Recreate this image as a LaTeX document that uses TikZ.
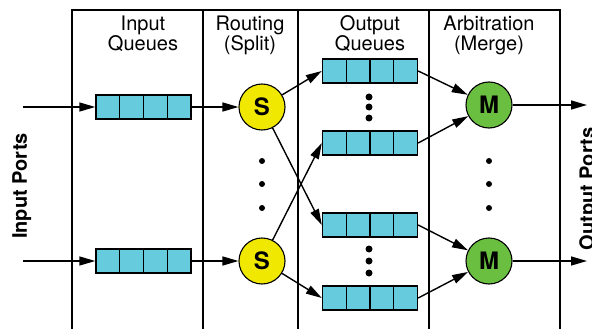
\documentclass[tikz,border=0pt]{standalone}
\usepackage{fontspec}
\setmainfont{TeX Gyre Heros}
\usetikzlibrary{arrows.meta,calc}
\definecolor{qcyan}{RGB}{102,204,221}
\definecolor{syellow}{RGB}{240,232,0}
\definecolor{mgreen}{RGB}{106,190,64}
\begin{document}
\begin{tikzpicture}[x=1pt,y=-1pt,
  frameline/.style={line width=1.4pt},
  queuebox/.style={draw, line width=1.4pt, fill=qcyan, minimum width=95pt, minimum height=24pt, inner sep=0pt,
    path picture={\foreach \k in {1,2,3}{\draw[line width=1.4pt]
      ($(path picture bounding box.south west)!\k/4!(path picture bounding box.south east)$) --
      ($(path picture bounding box.north west)!\k/4!(path picture bounding box.north east)$);}}},
  splitnode/.style={circle, draw, line width=1.1pt, fill=syellow, minimum size=46pt, inner sep=0pt, font=\bfseries\fontsize{24}{24}\selectfont},
  mergenode/.style={circle, draw, line width=1.1pt, fill=mgreen, minimum size=46pt, inner sep=0pt, font=\bfseries\fontsize{24}{24}\selectfont},
  header/.style={align=center, inner sep=0pt, anchor=north, font=\fontsize{20}{20}\selectfont},
  portlabel/.style={rotate=90, anchor=base, inner sep=0pt, font=\bfseries\fontsize{20}{20}\selectfont},
  conn/.style={line width=1.4pt, -{Triangle[length=16pt,width=9pt]}},
  dotmark/.style={fill=black}
]
\useasboundingbox (0,0) rectangle (592,329);
\clip (0,0) rectangle (592,329);
% frame
\draw[frameline] (72,329) -- (72,10) -- (560,10) -- (560,329);
\foreach \xx in {203,298,429} \draw[frameline] (\xx,10) -- (\xx,329);
% headers
\node[header] (h1) at (143,15.6) {Input\\Queues};
\node[header] (h2) at (250,15.6) {Routing\\(Split)};
\node[header] (h3) at (370,15.6) {Output\\Queues};
\node[header] (h4) at (489,15.6) {Arbitration\\(Merge)};
% port labels
\node[portlabel] (inports) at (27,186) {Input Ports};
\node[portlabel] (outports) at (594,189) {Output Ports};
% input queues
\coordinate (in1) at (23,107);
\coordinate (in2) at (23,261);
\node[queuebox] (iq1) at (143.5,107) {};
\node[queuebox] (iq2) at (143.5,261) {};
% split
\node[splitnode] (s1) at (262,107) {S};
\node[splitnode] (s2) at (262,261) {S};
% output queues
\node[queuebox] (oq1) at (370,71) {};
\node[queuebox] (oq2) at (370,143) {};
\node[queuebox] (oq3) at (370,225) {};
\node[queuebox] (oq4) at (370,298) {};
% merge
\node[mergenode] (m1) at (489,105) {M};
\node[mergenode] (m2) at (489,261) {M};
\coordinate (out1) at (587,105);
\coordinate (out2) at (587,261);
% connectors
\draw[conn] (in1) -- (iq1.west);
\draw[conn] (in2) -- (iq2.west);
\draw[conn] (iq1.east) -- (s1);
\draw[conn] (iq2.east) -- (s2);
\draw[conn] (s1) -- (oq1.west);
\draw[conn] (s1) -- (oq3.west);
\draw[conn] (s2) -- (oq2.west);
\draw[conn] (s2) -- (oq4.west);
\draw[conn] (oq1.east) -- (m1);
\draw[conn] (oq2.east) -- (m1);
\draw[conn] (oq3.east) -- (m2);
\draw[conn] (oq4.east) -- (m2);
\draw[conn] (m1) -- (out1);
\draw[conn] (m2) -- (out2);
% dots
\foreach \yy in {161,184,208} {
  \fill[dotmark] (262,\yy) circle (3pt);
  \fill[dotmark] (489,\yy) circle (3pt);
}
\foreach \yy in {97,107,118,249,261,273} \fill[dotmark] (369,\yy) circle (3.5pt);
\end{tikzpicture}
\end{document}
